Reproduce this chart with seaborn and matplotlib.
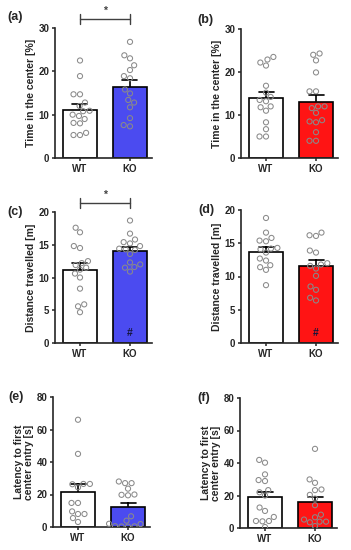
import numpy as np
import pandas as pd
import matplotlib
matplotlib.use("Agg")
import matplotlib.pyplot as plt
import seaborn as sns

# ---------------- data ----------------
groups = ["WT", "KO"]

a_wt = [22.5, 18.9, 14.7, 14.7, 12.8, 12.0, 10.9, 10.8, 10.0, 9.7, 9.0, 8.1, 8.0, 5.8, 5.3, 5.3]
a_ko = [26.8, 23.7, 23.0, 21.4, 20.3, 18.9, 18.4, 15.8, 14.9, 13.4, 12.8, 11.7, 9.2, 7.3, 7.6]

b_wt = [23.5, 22.9, 22.2, 21.5, 16.8, 15.2, 14.2, 13.2, 13.5, 12.0, 11.8, 11.0, 8.3, 6.7, 5.0, 5.0]
b_ko = [24.3, 24.0, 22.7, 19.9, 15.5, 15.5, 11.6, 12.0, 12.0, 10.5, 8.3, 8.5, 8.8, 6.0, 4.0, 4.0]

c_wt = [17.6, 16.9, 14.8, 14.5, 12.5, 12.2, 11.9, 11.5, 11.2, 10.6, 10.0, 8.3, 5.9, 5.6, 4.7]
c_ko = [18.7, 16.7, 15.8, 15.4, 15.2, 14.8, 14.4, 14.3, 14.2, 13.6, 12.3, 12.0, 11.6, 11.5, 10.9]

d_wt = [18.8, 16.6, 15.8, 15.4, 15.3, 14.3, 14.2, 14.1, 13.6, 12.7, 12.4, 11.7, 11.4, 11.0, 8.7]
d_ko = [16.6, 16.2, 16.1, 13.9, 13.6, 12.0, 11.8, 11.6, 11.2, 10.1, 8.5, 8.0, 6.8, 6.4]

e_wt = [66.0, 45.0, 26.5, 26.3, 26.5, 24.4, 14.8, 14.8, 9.6, 8.0, 8.0, 5.5, 3.1]
e_ko = [28.0, 27.0, 27.0, 23.6, 20.0, 19.8, 19.5, 6.6, 3.9, 2.0, 1.8, 0.5, 0.4, 0.3, 0.2]

f_wt = [41.9, 40.2, 33.0, 29.5, 28.9, 23.3, 22.0, 20.0, 12.6, 10.5, 6.8, 4.3, 4.3, 4.1, 0.6]
f_ko = [48.7, 29.9, 27.8, 23.7, 23.3, 20.4, 18.1, 14.0, 8.2, 6.6, 5.2, 3.9, 3.9, 3.5, 1.2]

ylabels = ["Time in the center [%]", "Time in the center [%]",
           "Distance travelled [m]", "Distance travelled [m]",
           "Latency to first\ncenter entry [s]", "Latency to first\ncenter entry [s]"]
panel_tags = ["(a)", "(b)", "(c)", "(d)", "(e)", "(f)"]
yticks_list = [[0, 10, 20, 30], [0, 10, 20, 30],
               [0, 5, 10, 15, 20], [0, 5, 10, 15, 20],
               [0, 20, 40, 60, 80], [0, 20, 40, 60, 80]]

BLUE = "#4b4bf0"
RED = "#ff1414"

# ---------------- figure ----------------
sns.set_style("ticks")
plt.rcParams["font.family"] = ["Liberation Sans", "DejaVu Sans"]
plt.rcParams["font.weight"] = "bold"
plt.rcParams["axes.labelweight"] = "bold"

W, H = 351, 550
fig = plt.figure(figsize=(W / 100, H / 100), dpi=100)

# layout in pixels: left, top, width, height of axes; tag position
layout = [
    dict(ax=(55, 28, 97, 130), tag=(7, 17)),
    dict(ax=(241, 29, 97, 129), tag=(197, 20)),
    dict(ax=(55, 212, 97, 131), tag=(7, 212)),
    dict(ax=(241, 210, 97, 133), tag=(198, 210)),
    dict(ax=(53, 397, 97, 130), tag=(8, 397)),
    dict(ax=(240, 398, 97, 130), tag=(197, 398)),
]
datasets = [(a_wt, a_ko), (b_wt, b_ko), (c_wt, c_ko), (d_wt, d_ko), (e_wt, e_ko), (f_wt, f_ko)]
colors = [BLUE, RED, BLUE, RED, BLUE, RED]
sig = {0: (32.1, 1.15, 33.9), 2: (21.4, 0.75, 22.6)}
hashes = {2: 1.5, 3: 1.5}

for i, ((wt, ko), lay) in enumerate(zip(datasets, layout)):
    l, t, w, h = lay["ax"]
    ax = fig.add_axes([l / W, 1 - (t + h) / H, w / W, h / H])
    df = pd.DataFrame({"group": ["WT"] * len(wt) + ["KO"] * len(ko),
                       "value": np.r_[wt, ko]})
    sns.barplot(data=df, x="group", y="value", hue="group", order=groups,
                hue_order=groups, palette={"WT": "white", "KO": colors[i]},
                saturation=1, errorbar="se", capsize=0.3, width=0.68,
                edgecolor="black", linewidth=1.2,
                err_kws={"color": "black", "linewidth": 1.2},
                legend=False, ax=ax)
    for ln in ax.lines:
        ln.set_zorder(0.9)
    for p in ax.patches:
        p.set_zorder(1)
    sns.swarmplot(data=df, x="group", y="value", order=groups, color="white",
                  size=3.7, linewidth=0.75, edgecolor="#8a8a8a", ax=ax, zorder=3)
    for coll in ax.collections:
        coll.set_facecolor("none")
        coll.set_edgecolor("#8a8a8a")

    yt = yticks_list[i]
    ax.set_xlim(-0.5, 1.44)
    ax.set_ylim(0, yt[-1])
    ax.set_yticks(yt)
    ax.set_xlabel("")
    ax.set_ylabel(ylabels[i], fontsize=7.5, fontweight="bold", labelpad=2,
                  linespacing=1.0)
    sns.despine(ax=ax)
    for s in ("left", "bottom"):
        ax.spines[s].set_linewidth(1.2)
    ax.tick_params(length=2.5, width=1.1, labelsize=7, pad=1.5)
    for lab in ax.get_xticklabels() + ax.get_yticklabels():
        lab.set_fontweight("bold")

    if i in sig:
        y, d, ys = sig[i]
        kw = dict(color="#404040", lw=1.0, clip_on=False)
        ax.plot([0, 1], [y, y], **kw)
        ax.plot([0, 0], [y - d, y + d], **kw)
        ax.plot([1, 1], [y - d, y + d], **kw)
        ax.text(0.5, ys, "*", ha="center", va="center", fontsize=7.5,
                color="#404040", clip_on=False)
    if i in hashes:
        ax.text(1, hashes[i], "#", ha="center", va="center", fontsize=7.5,
                color="#15153a", fontweight="bold")

    tx, ty = lay["tag"]
    fig.text(tx / W, 1 - ty / H, panel_tags[i], fontsize=9,
             fontweight="bold", ha="left", va="center")

fig.savefig("out.png", dpi=100)
